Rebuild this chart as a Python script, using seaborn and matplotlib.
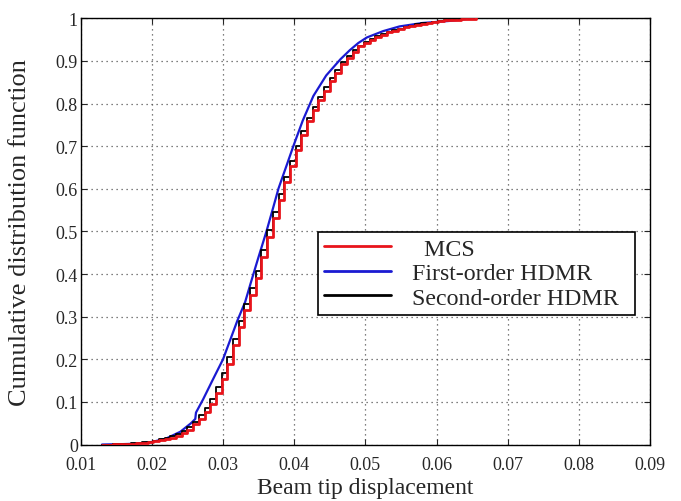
import numpy as np
import pandas as pd
import matplotlib
matplotlib.use("Agg")
import matplotlib.pyplot as plt
import seaborn as sns

# MCS: cumulative histogram, value at the left edge of each bin
mcs_x = [0.0130, 0.0138, 0.0146, 0.0154, 0.0162, 0.0170, 0.0178, 0.0186, 0.0194, 0.0202,
         0.0210, 0.0218, 0.0226, 0.0234, 0.0242, 0.0250, 0.0258, 0.0266, 0.0274, 0.0282,
         0.0290, 0.0298, 0.0306, 0.0314, 0.0322, 0.0330, 0.0338, 0.0346, 0.0354, 0.0362,
         0.0370, 0.0378, 0.0386, 0.0394, 0.0402, 0.0410, 0.0418, 0.0426, 0.0434, 0.0442,
         0.0450, 0.0458, 0.0466, 0.0474, 0.0482, 0.0490, 0.0498, 0.0506, 0.0514, 0.0522,
         0.0530, 0.0538, 0.0546, 0.0554, 0.0562, 0.0570, 0.0578, 0.0586, 0.0594, 0.0602,
         0.0610, 0.0618, 0.0626, 0.0634, 0.0642, 0.0650, 0.0656]
mcs_cdf = [0.000, 0.000, 0.001, 0.001, 0.002, 0.002, 0.003, 0.004, 0.006, 0.008,
           0.010, 0.012, 0.015, 0.019, 0.026, 0.035, 0.047, 0.061, 0.076, 0.095,
           0.122, 0.153, 0.190, 0.234, 0.275, 0.315, 0.352, 0.390, 0.440, 0.488,
           0.531, 0.574, 0.615, 0.653, 0.690, 0.726, 0.758, 0.785, 0.808, 0.830,
           0.852, 0.872, 0.892, 0.908, 0.922, 0.934, 0.943, 0.950, 0.956, 0.962,
           0.967, 0.971, 0.975, 0.979, 0.982, 0.985, 0.987, 0.989, 0.991, 0.993,
           0.995, 0.996, 0.997, 0.998, 0.999, 0.999, 1.000]

# Second-order HDMR, same bins
so_cdf = [0.000, 0.000, 0.001, 0.001, 0.002, 0.003, 0.004, 0.005, 0.007, 0.009,
          0.012, 0.015, 0.019, 0.024, 0.031, 0.041, 0.054, 0.069, 0.086, 0.107,
          0.135, 0.167, 0.205, 0.248, 0.289, 0.330, 0.368, 0.408, 0.456, 0.503,
          0.545, 0.588, 0.628, 0.665, 0.701, 0.736, 0.767, 0.793, 0.816, 0.838,
          0.859, 0.878, 0.897, 0.912, 0.925, 0.936, 0.945, 0.952, 0.958, 0.963,
          0.968, 0.972, 0.976, 0.980, 0.983, 0.986, 0.988, 0.990, 0.992, 0.994,
          0.995, 0.996, 0.997, 0.998, 0.999, 1.000, 1.000]

# First-order HDMR (smooth curve)
fo_x = [0.0130, 0.0160, 0.0180, 0.0200, 0.0220, 0.0240, 0.0255, 0.0261, 0.0262, 0.0272,
        0.0285, 0.0300, 0.0310, 0.0320, 0.0331, 0.0340, 0.0349, 0.0361, 0.0370, 0.0378,
        0.0390, 0.0399, 0.0412, 0.0427, 0.0445, 0.0465, 0.0478, 0.0490, 0.0502, 0.0525,
        0.0548, 0.0580, 0.0619, 0.0650]
fo_cdf = [0.000, 0.001, 0.002, 0.006, 0.014, 0.030, 0.050, 0.060, 0.075, 0.106,
          0.150, 0.200, 0.245, 0.290, 0.334, 0.385, 0.435, 0.500, 0.553, 0.601,
          0.658, 0.701, 0.760, 0.818, 0.866, 0.904, 0.925, 0.942, 0.955, 0.970,
          0.981, 0.989, 0.994, 1.000]

x_ticks = [0.01, 0.02, 0.03, 0.04, 0.05, 0.06, 0.07, 0.08, 0.09]
x_ticklabels = ["0.01", "0.02", "0.03", "0.04", "0.05", "0.06", "0.07", "0.08", "0.09"]
y_ticks = [0, 0.1, 0.2, 0.3, 0.4, 0.5, 0.6, 0.7, 0.8, 0.9, 1]
y_ticklabels = ["0", "0.1", "0.2", "0.3", "0.4", "0.5", "0.6", "0.7", "0.8", "0.9", "1"]

sns.set_style("ticks")
plt.rcParams["font.family"] = ["Liberation Serif", "DejaVu Serif"]

fig = plt.figure(figsize=(6.81, 5.02), dpi=100)
ax = fig.add_axes([0.1185, 0.1125, 0.836, 0.849])

sns.lineplot(x=mcs_x, y=mcs_cdf, ax=ax, color="#e8141b", lw=2.0,
             drawstyle="steps-post", label="  MCS", sort=False)
sns.lineplot(x=fo_x, y=fo_cdf, ax=ax, color="#1a1ad2", lw=1.6,
             label="First-order HDMR", sort=False)
sns.lineplot(x=mcs_x, y=so_cdf, ax=ax, color="black", lw=1.3,
             drawstyle="steps-post", label="Second-order HDMR", sort=False)
# red drawn on top, as in the reference
ax.lines[0].set_zorder(3.5)

ax.set_xlim(0.01, 0.09)
ax.set_ylim(0, 1)
ax.set_xticks(x_ticks)
ax.set_xticklabels(x_ticklabels)
ax.set_yticks(y_ticks)
ax.set_yticklabels(y_ticklabels)
ax.tick_params(direction="in", labelsize=13, length=4, top=True, right=True, pad=2)
ax.tick_params(axis="x", pad=8)
ax.grid(True, linestyle=(0, (1, 3)), color="#555555", lw=0.9)
for s in ax.spines.values():
    s.set_linewidth(1.0)
    s.set_color("black")

ax.set_xlabel("Beam tip displacement", fontsize=17, labelpad=3)
ax.set_ylabel("Cumulative distribution function", fontsize=19, labelpad=18)

leg = ax.legend(loc="upper left", bbox_to_anchor=(0.417, 0.299, 0.557, 0.2),
                mode="expand", borderaxespad=0,
                fontsize=17.2, frameon=True, fancybox=False, edgecolor="black",
                framealpha=1, handlelength=2.8, handletextpad=0.9, labelspacing=0.12,
                borderpad=0.25)
leg.get_frame().set_linewidth(1.2)
for h in leg.get_lines():
    h.set_linewidth(2.0)

fig.savefig("out.png", dpi=100)
